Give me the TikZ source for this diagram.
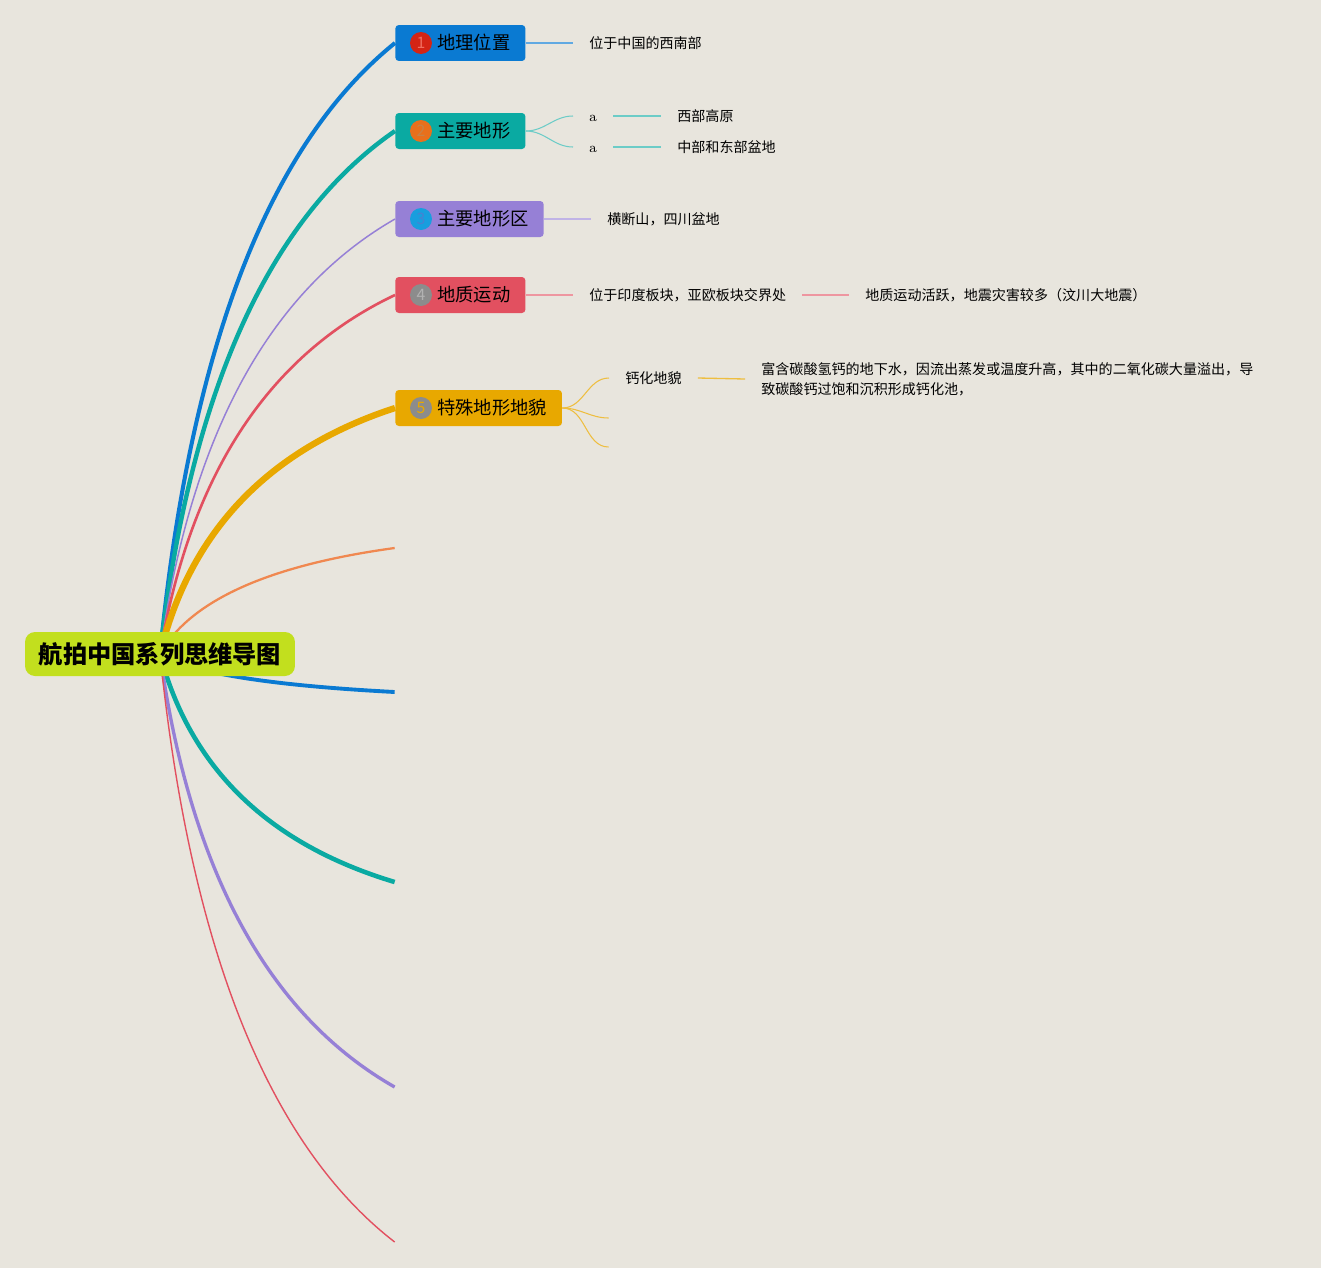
\documentclass[tikz,border=0pt]{standalone}
\usepackage{fontspec}
\newfontfamily\cjk{Noto Sans CJK SC}
\usepackage{tikz}
\usetikzlibrary{calc}

\definecolor{paper}{RGB}{232,229,221}
\definecolor{lime}{RGB}{194,223,30}
\definecolor{cblue}{RGB}{10,122,210}
\definecolor{cteal}{RGB}{10,170,162}
\definecolor{cpurple}{RGB}{150,128,214}
\definecolor{cred}{RGB}{226,80,96}
\definecolor{cgold}{RGB}{232,168,0}
\definecolor{csalmon}{RGB}{240,136,80}
\definecolor{dotone}{RGB}{212,36,20}
\definecolor{digone}{RGB}{240,110,95}
\definecolor{dottwo}{RGB}{232,112,28}
\definecolor{digtwo}{RGB}{200,130,70}
\definecolor{dotthree}{RGB}{24,158,222}
\definecolor{digthree}{RGB}{70,130,210}

\tikzset{
  topic/.style={fill=#1, rounded corners=2pt, anchor=west, minimum height=0.72cm,
    inner xsep=0.3cm, inner ysep=0pt, text height=9.1pt, text depth=1.3pt,
    font=\cjk\fontsize{10.4}{12}\selectfont},
  numdot/.style 2 args={circle, fill=#1, text=#2, inner sep=0pt, minimum size=0.44cm,
    font=\cjk\fontsize{9}{10}\selectfont},
  leaf/.style={anchor=west, inner xsep=0.32cm, inner ysep=1pt, text height=7pt,
    text depth=0.8pt, font=\cjk\fontsize{8}{11.3}\selectfont},
  stub/.style={inner sep=0pt, minimum size=0pt},
  twig/.style={draw=#1, line width=0.75pt},
}

\begin{document}
\begin{tikzpicture}[x=0.02cm,y=-0.02cm]
 \fill[paper] (0,0) rectangle (1321,1268);
 \useasboundingbox (0,0) rectangle (1321,1268);
 \coordinate (hub) at (160,654);

 % main topics
 \node[topic=cblue] (t1) at (395,43) {\hspace*{0.54cm}地理位置};
 \node[topic=cteal] (t2) at (395,131) {\hspace*{0.54cm}主要地形};
 \node[topic=cpurple] (t3) at (395,219) {\hspace*{0.54cm}主要地形区};
 \node[topic=cred] (t4) at (395,295) {\hspace*{0.54cm}地质运动};
 \node[topic=cgold] (t5) at (395,408) {\hspace*{0.54cm}特殊地形地貌};
 \node[stub] (e6) at (395,548) {};
 \node[stub] (e7) at (395,692) {};
 \node[stub] (e8) at (395,882) {};
 \node[stub] (e9) at (395,1087) {};
 \node[stub] (e10) at (395,1242) {};

 \node[numdot={dotone}{digone}] (n1) at ([xshift=0.52cm]t1.west) {1};
 \node[numdot={dottwo}{digtwo}] (n2) at ([xshift=0.52cm]t2.west) {2};
 \node[numdot={dotthree}{digthree}] (n3) at ([xshift=0.52cm]t3.west) {3};
 \node[numdot={black!45}{black!30}] (n4) at ([xshift=0.52cm]t4.west) {4};
 \node[numdot={black!45}{cgold}] (n5) at ([xshift=0.52cm]t5.west) {5};

 % branches from the centre
 \foreach \e/\cy/\col/\w in {t1/196/cblue/2.3pt, t2/262/cteal/2.5pt,
   t3/328/cpurple/0.85pt, t4/385/cred/1.5pt, t5/470/cgold/3.6pt,
   e6/574/csalmon/1.3pt, e7/682/cblue/2.2pt, e8/825/cteal/2.6pt,
   e9/979/cpurple/1.9pt, e10/1095/cred/0.8pt}
  \draw[draw=\col, line width=\w] (hub)
   .. controls ($(hub)!2/3!(205,\cy)$) and ($(\e.west)!2/3!(205,\cy)$) .. (\e.west);

 % details
 \node[leaf] (d1) at (573,43) {位于中国的西南部};
 \draw[twig=cblue!65!white] (t1.east) -- (d1.west);

 \node[leaf, font=\fontsize{8}{10}\selectfont] (d2a) at (573,116) {a};
 \node[leaf, font=\fontsize{8}{10}\selectfont] (d2b) at (573,147) {a};
 \node[leaf] (d2c) at (661,116) {西部高原};
 \node[leaf] (d2d) at (661,147) {中部和东部盆地};
 \draw[twig=cteal!60!white, line width=0.6pt] (t2.east) to[out=0,in=180] (d2a.west);
 \draw[twig=cteal!60!white, line width=0.6pt] (t2.east) to[out=0,in=180] (d2b.west);
 \draw[twig=cteal!60!white] (d2a.east) -- (d2c.west);
 \draw[twig=cteal!60!white] (d2b.east) -- (d2d.west);

 \node[leaf] (d3) at (591,219) {横断山，四川盆地};
 \draw[twig=cpurple!60!white] (t3.east) -- (d3.west);

 \node[leaf] (d4) at (573,295) {位于印度板块，亚欧板块交界处};
 \node[leaf] (d4b) at (849,295) {地质运动活跃，地震灾害较多（汶川大地震）};
 \draw[twig=cred!60!white] (t4.east) -- (d4.west);
 \draw[twig=cred!60!white] (d4.east) -- (d4b.west);

 \node[leaf] (d5) at (609,378) {钙化地貌};
 \node[stub] (d5b) at (609,418) {};
 \node[stub] (d5c) at (609,447) {};
 \node[leaf, text height=, text depth=, align=left] (d5d) at (745,379)
  {富含碳酸氢钙的地下水，因流出蒸发或温度升高，其中的二氧化碳大量溢出，导\\致碳酸钙过饱和沉积形成钙化池，};
 \draw[twig=cgold!75!white, line width=0.6pt] (t5.east) to[out=0,in=180] (d5.west);
 \draw[twig=cgold!75!white, line width=0.6pt] (t5.east) to[out=0,in=180] (d5b.west);
 \draw[twig=cgold!75!white, line width=0.6pt] (t5.east) to[out=0,in=180] (d5c.west);
 \draw[twig=cgold!75!white] (d5.east) -- (d5d.west);

 % centre topic
 \node[fill=lime, rounded corners=0.2cm, minimum width=5.4cm, minimum height=0.88cm,
  font=\cjk\fontsize{13.8}{16}\selectfont\bfseries] (root) at (hub) {航拍中国系列思维导图};
\end{tikzpicture}
\end{document}
